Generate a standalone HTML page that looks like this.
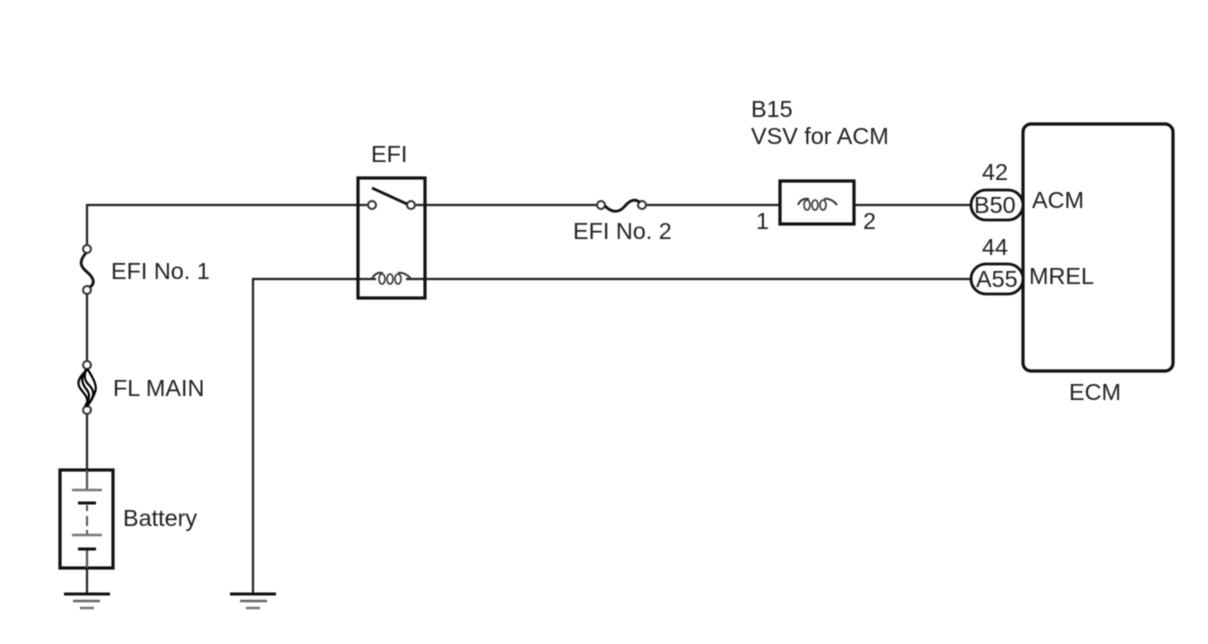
<!DOCTYPE html>
<html>
<head>
<meta charset="utf-8">
<style>
html,body{margin:0;padding:0;background:#fff;width:1208px;height:644px;overflow:hidden}
svg{display:block;filter:blur(0.5px)}
text{font-family:"Liberation Sans",sans-serif;font-size:23.4px;fill:#222}
</style>
</head>
<body>
<svg width="1208" height="644" viewBox="0 0 1208 644" xmlns="http://www.w3.org/2000/svg">
<g fill="none" stroke="#222" stroke-width="2.2">
  <path d="M87 594V205H367"/>
  <path d="M416 205H597"/>
  <path d="M645 205H780"/>
  <path d="M854 205H972"/>
  <path d="M253 595V279H376"/>
  <path d="M406 279H972"/>
</g>
<!-- white gaps for fuses and battery -->
<g fill="#fff" stroke="none">
  <rect x="80" y="252" width="14" height="36"/>
  <rect x="76" y="369" width="22" height="38"/>
  <rect x="604" y="198" width="34" height="14"/>
  <rect x="80" y="491" width="14" height="57"/>
</g>
<g fill="none" stroke="#111" stroke-width="3.2">
  <rect x="358" y="178" width="67" height="120"/>
  <rect x="60" y="470" width="53" height="98"/>
  <rect x="780" y="181" width="74" height="43"/>
  <rect x="1023" y="124" width="150" height="247" rx="8" ry="8"/>
</g>
<!-- terminals -->
<g fill="#fff" stroke="#333" stroke-width="2">
  <circle cx="372" cy="205" r="4"/>
  <circle cx="411" cy="205" r="4"/>
  <circle cx="601" cy="205" r="4"/>
  <circle cx="642" cy="205" r="4"/>
  <circle cx="87" cy="249" r="4"/>
  <circle cx="87" cy="290" r="4"/>
  <circle cx="87" cy="365" r="4"/>
  <circle cx="87" cy="410" r="4"/>
</g>
<path d="M372 188L407 204" stroke="#111" stroke-width="2.8" fill="none"/>
<!-- fuses -->
<path d="M605 206C613 214 620 212 625 206C630 200 636 198 640 203" stroke="#111" stroke-width="2.8" fill="none"/>
<path d="M86 253C78 262 81 267 87 272C93 277 96 283 90 287" stroke="#111" stroke-width="2.8" fill="none"/>
<!-- FL MAIN fusible link -->
<g fill="none" stroke="#000" stroke-width="2.2">
  <path d="M88 369C80 376 76 382 80 388C84 394 90 398 86 406"/>
  <path d="M86 369C84 376 84 380 89 385C94 390 96 396 87 406"/>
  <path d="M88 370C92 376 98 386 95 392C93 398 90 402 86 407"/>
  <path d="M85 372C80 378 82 384 87 390C91 395 88 402 85 406"/>
</g>
<!-- coils -->
<g fill="none" stroke="#333" stroke-width="1.6">
  <path d="M372 279C374 274 378 272 383 273M398 273C403 272 408 275 411 279" stroke-width="2"/>
  <ellipse cx="382" cy="279" rx="3" ry="5"/>
  <ellipse cx="390" cy="279" rx="3" ry="5"/>
  <ellipse cx="398" cy="279" rx="3" ry="5"/>
  <path d="M798 205C800 200 804 198 809 199M824 199C829 198 834 201 837 205" stroke-width="2"/>
  <ellipse cx="807" cy="205" rx="3" ry="5"/>
  <ellipse cx="815" cy="205" rx="3" ry="5"/>
  <ellipse cx="823" cy="205" rx="3" ry="5"/>
</g>
<!-- battery plates -->
<g stroke="#555" stroke-width="2" fill="none">
  <path d="M87 470V490M87 505V511M87 516V526M87 530V535M87 549V568"/>
</g>
<g stroke="#777" stroke-width="2.5" fill="none">
  <path d="M72 490H102M72 535H102"/>
</g>
<g stroke="#111" stroke-width="3" fill="none">
  <path d="M78 503H96M78 549H96"/>
</g>
<!-- grounds -->
<g fill="none">
  <path d="M64 594H110M230 594H276" stroke="#111" stroke-width="3"/>
  <path d="M73 601H100M240 601H267" stroke="#666" stroke-width="2.5"/>
  <path d="M80 608H94M246 608H260" stroke="#777" stroke-width="2.5"/>
</g>
<!-- connectors -->
<g fill="#fff" stroke="#111" stroke-width="2.8">
  <rect x="971" y="190" width="52" height="30" rx="15" ry="15"/>
  <rect x="971" y="264" width="52" height="30" rx="15" ry="15"/>
</g>
<!-- text -->
<text x="371" y="162">EFI</text>
<text x="751" y="117">B15</text>
<text x="751" y="144">VSV for ACM</text>
<text x="573" y="239">EFI No. 2</text>
<text x="111" y="279">EFI No. 1</text>
<text x="113" y="396">FL MAIN</text>
<text x="123" y="526">Battery</text>
<text x="756" y="229">1</text>
<text x="863" y="229">2</text>
<text x="982" y="180">42</text>
<text x="982" y="255">44</text>
<text x="974" y="213">B50</text>
<text x="976" y="287">A55</text>
<text x="1032" y="208">ACM</text>
<text x="1029" y="284">MREL</text>
<text x="1069" y="400">ECM</text>
</svg>
</body>
</html>
